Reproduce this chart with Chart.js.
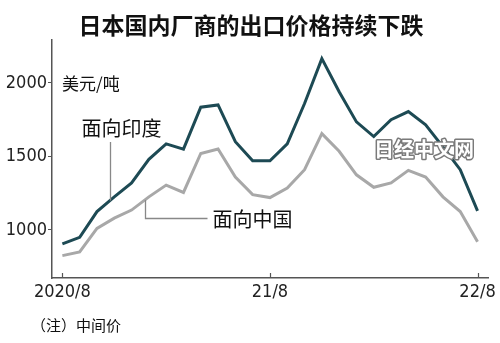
<!DOCTYPE html>
<html>
<head>
<meta charset="utf-8">
<script src="https://cdn.jsdelivr.net/npm/chart.js@4/dist/chart.umd.min.js"></script>
<style>
  html, body { margin: 0; padding: 0; background: #fff; }
  #wrap { width: 500px; height: 343px; }
</style>
</head>
<body>
<div id="wrap"><canvas id="chart" width="500" height="343"></canvas></div>
<script>
// monthly export prices, USD per ton (mid price)
const months = [
  "2020/8", "2020/9", "2020/10", "2020/11", "2020/12", "2021/1", "2021/2",
  "2021/3", "2021/4", "2021/5", "2021/6", "2021/7", "2021/8", "2021/9",
  "2021/10", "2021/11", "2021/12", "2022/1", "2022/2", "2022/3", "2022/4",
  "2022/5", "2022/6", "2022/7", "2022/8"
];
const toIndia = [905, 950, 1125, 1225, 1320, 1480, 1585, 1550, 1835, 1850, 1600, 1470,
  1470, 1585, 1860, 2165, 1940, 1735, 1635, 1750, 1805, 1715, 1565, 1410, 1130];
const toChina = [825, 850, 1010, 1080, 1135, 1225, 1305, 1255, 1520, 1550, 1360, 1240,
  1220, 1285, 1410, 1655, 1535, 1375, 1290, 1320, 1405, 1360, 1225, 1125, 920];

const xTickIndex = [0, 12, 24];
const xTickLabels = ["2020/8", "21/8", "22/8"];
const yTicks = [1000, 1500, 2000];

const INDIA_COLOR = "#1d4a54";
const CHINA_COLOR = "#a8a8a8";
const AXIS_COLOR = "#555";
const NUM_FONT = "'DejaVu Sans Condensed', 'Liberation Sans Narrow', 'Liberation Sans', sans-serif";
const CJK_FONT = "'Noto Sans CJK SC'";

// linear interpolation along a series at a fractional month index
function valueAt(series, idx) {
  const i = Math.floor(idx);
  const t = idx - i;
  if (i >= series.length - 1) return series[series.length - 1];
  return series[i] + (series[i + 1] - series[i]) * t;
}

const overlay = {
  id: "overlay",
  afterDraw(chart) {
    const ctx = chart.ctx;
    const xs = chart.scales.x;
    const ys = chart.scales.y;
    const area = chart.chartArea;
    ctx.save();

    // inward tick marks on the time axis
    ctx.strokeStyle = AXIS_COLOR;
    ctx.lineWidth = 1.2;
    xTickIndex.forEach((v) => {
      const px = Math.round(xs.getPixelForValue(v)) + 0.5;
      ctx.beginPath();
      ctx.moveTo(px, area.bottom - 5);
      ctx.lineTo(px, area.bottom);
      ctx.stroke();
    });

    // title
    ctx.fillStyle = "#111";
    ctx.textAlign = "center";
    ctx.textBaseline = "middle";
    ctx.font = `bold 23px ${CJK_FONT}`;
    ctx.fillText("日本国内厂商的出口价格持续下跌", 251, 25);

    // unit
    ctx.textAlign = "left";
    ctx.font = `17px ${CJK_FONT}`;
    ctx.fillText("美元/吨", 62, ys.getPixelForValue(2000) + 1);

    // leader + label for the India series
    ctx.strokeStyle = "#888";
    ctx.lineWidth = 1.3;
    const iIdx = 2.75;
    const ix = Math.round(xs.getPixelForValue(iIdx)) + 0.5;
    const iy = ys.getPixelForValue(valueAt(toIndia, iIdx));
    ctx.beginPath();
    ctx.moveTo(ix, 142);
    ctx.lineTo(ix, iy);
    ctx.stroke();
    ctx.font = `20px ${CJK_FONT}`;
    ctx.fillStyle = "#111";
    ctx.fillText("面向印度", ix - 29, 128);

    // leader + label for the China series
    const cIdx = 4.77;
    const cx = Math.round(xs.getPixelForValue(cIdx)) + 0.5;
    const cyTop = ys.getPixelForValue(valueAt(toChina, cIdx));
    const cyElbow = Math.round(ys.getPixelForValue(1080)) + 0.5;
    ctx.beginPath();
    ctx.moveTo(cx, cyTop);
    ctx.lineTo(cx, cyElbow);
    ctx.lineTo(cx + 62, cyElbow);
    ctx.stroke();
    ctx.fillText("面向中国", cx + 67, cyElbow + 1);

    // watermark
    ctx.font = `bold 20px ${CJK_FONT}`;
    ctx.textAlign = "center";
    ctx.lineJoin = "round";
    ctx.lineWidth = 3;
    ctx.strokeStyle = "#7a7a7a";
    ctx.strokeText("日经中文网", 424, 149);
    ctx.fillStyle = "#fff";
    ctx.fillText("日经中文网", 424, 149);

    // footnote
    ctx.textAlign = "left";
    ctx.fillStyle = "#111";
    ctx.font = `15px ${CJK_FONT}`;
    ctx.fillText("（注）中间价", 31, 325);

    ctx.restore();
  }
};

const ctx = document.getElementById("chart").getContext("2d");
new Chart(ctx, {
  type: "line",
  data: {
    datasets: [
      {
        label: "面向中国",
        data: toChina.map((v, i) => ({ x: i, y: v })),
        borderColor: CHINA_COLOR,
        borderWidth: 3,
        pointRadius: 0,
        tension: 0,
      },
      {
        label: "面向印度",
        data: toIndia.map((v, i) => ({ x: i, y: v })),
        borderColor: INDIA_COLOR,
        borderWidth: 3,
        pointRadius: 0,
        tension: 0,
      },
    ],
  },
  options: {
    responsive: false,
    devicePixelRatio: 1,
    animation: false,
    layout: { padding: { top: 40, right: 11, bottom: 0, left: 0 } },
    plugins: {
      legend: { display: false },
      tooltip: { enabled: false },
    },
    scales: {
      x: {
        type: "linear",
        min: -0.6,
        max: 24.65,
        afterBuildTicks: (scale) => {
          scale.ticks = xTickIndex.map((v) => ({ value: v }));
        },
        afterFit: (scale) => { scale.height = 65; },
        ticks: {
          autoSkip: false,
          maxRotation: 0,
          padding: 4,
          color: "#222",
          font: { family: NUM_FONT, size: 18 },
          callback: (v) => xTickLabels[xTickIndex.indexOf(v)] ?? "",
        },
        grid: { drawOnChartArea: false, drawTicks: false },
        border: { display: true, color: AXIS_COLOR, width: 1.5 },
      },
      y: {
        type: "linear",
        min: 673,
        max: 2292,
        afterBuildTicks: (scale) => {
          scale.ticks = yTicks.map((v) => ({ value: v }));
        },
        afterFit: (scale) => { scale.width = 52; },
        ticks: {
          padding: 1,
          color: "#222",
          font: { family: NUM_FONT, size: 18 },
          callback: (v) => String(v),
        },
        grid: { drawOnChartArea: false, drawTicks: true, tickLength: 4, color: AXIS_COLOR },
        border: { display: true, color: AXIS_COLOR, width: 1.5 },
      },
    },
  },
  plugins: [overlay],
});
</script>
</body>
</html>
